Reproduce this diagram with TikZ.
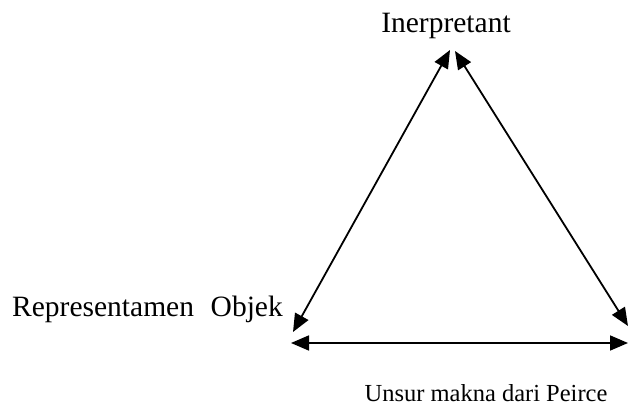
\documentclass[tikz,border=0pt]{standalone}
\usepackage{fontspec}
\setmainfont{Liberation Serif}
\usepackage{tikz}
\usetikzlibrary{arrows.meta, positioning}

\begin{document}
\begin{tikzpicture}[
  x=1pt, y=-1pt,
  term/.style={font=\fontsize{29.5}{34}\selectfont, inner sep=0pt},
  caption/.style={font=\fontsize{24.5}{29}\selectfont, inner sep=0pt},
  link/.style={{Triangle[length=18pt,width=15pt]}-{Triangle[length=18pt,width=15pt]}, line width=1.8pt}
]
\useasboundingbox (0,0) rectangle (629,411);
\node[term, anchor=base] (interp) at (446,33) {Inerpretant};
\node[term, anchor=base west] (repr) at (12,317) {Representamen};
\node[term, anchor=base east] (obj) at (283,317) {Objek};
\node[caption, anchor=base] (cap) at (486,402) {Unsur makna dari Peirce};
% arrow ends
\coordinate (apexL) at (450,50);
\coordinate (apexR) at (455,51);
\coordinate (cornerL) at (293,332);
\coordinate (cornerR) at (628,326);
\coordinate (baseL) at (291,343);
\coordinate (baseR) at (628,343);
\draw[link] (apexL) -- (cornerL);
\draw[link] (apexR) -- (cornerR);
\draw[link] (baseL) -- (baseR);
\end{tikzpicture}
\end{document}
